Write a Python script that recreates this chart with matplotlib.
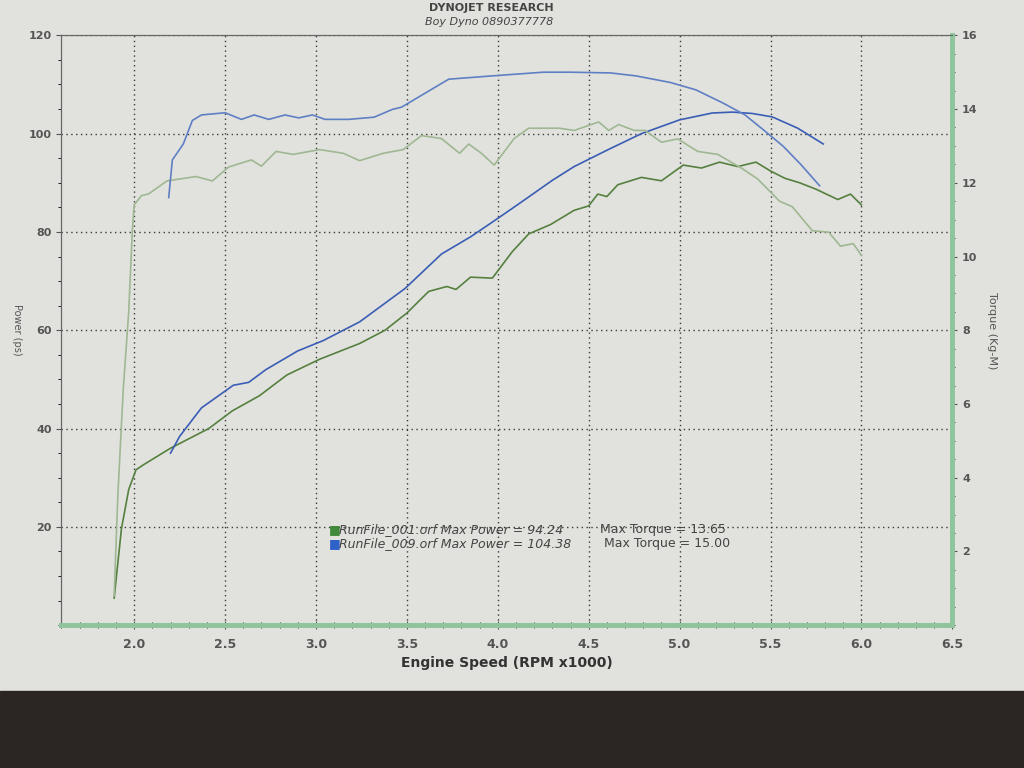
import numpy as np
import matplotlib.pyplot as plt
from matplotlib.ticker import MultipleLocator
from matplotlib.patches import Rectangle

# RunFile_001 (green) power, ps
g_pow_rpm = [1.89, 1.93, 1.97, 2.01, 2.05, 2.20, 2.41, 2.54, 2.69, 2.84, 3.02, 3.24, 3.38, 3.50,
             3.62, 3.72, 3.77, 3.85, 3.97, 4.08, 4.17, 4.29, 4.42, 4.50, 4.55, 4.60, 4.66, 4.79,
             4.90, 5.02, 5.12, 5.22, 5.32, 5.42, 5.50, 5.58, 5.66, 5.75, 5.87, 5.94, 6.00]
g_pow = [5.5, 19.6, 27.6, 31.6, 32.6, 36.0, 40.0, 43.6, 46.7, 50.9, 54.1, 57.3, 60.0, 63.5,
         67.9, 68.9, 68.3, 70.8, 70.6, 76.0, 79.6, 81.5, 84.4, 85.3, 87.7, 87.2, 89.6, 91.1,
         90.4, 93.6, 93.0, 94.2, 93.3, 94.2, 92.4, 90.9, 90.0, 88.7, 86.6, 87.7, 85.5]

# RunFile_001 (green) torque, Kg-M
g_tq_rpm = [1.89, 1.91, 1.94, 1.97, 1.99, 2.00, 2.04, 2.08, 2.18, 2.34, 2.43, 2.52, 2.645, 2.70,
            2.78, 2.875, 3.02, 3.15, 3.24, 3.37, 3.48, 3.58, 3.69, 3.79, 3.84, 3.91, 3.98, 4.09,
            4.17, 4.34, 4.42, 4.555, 4.61, 4.665, 4.75, 4.81, 4.90, 4.99, 5.10, 5.21, 5.34, 5.43,
            5.55, 5.62, 5.73, 5.82, 5.885, 5.955, 6.00]
g_tq = [0.8, 3.5, 6.4, 8.5, 10.7, 11.4, 11.65, 11.7, 12.05, 12.17, 12.05, 12.43, 12.62, 12.45,
        12.85, 12.77, 12.9, 12.8, 12.6, 12.8, 12.9, 13.28, 13.2, 12.8, 13.05, 12.8, 12.48, 13.2,
        13.48, 13.48, 13.42, 13.65, 13.42, 13.58, 13.42, 13.42, 13.1, 13.19, 12.85, 12.77, 12.4, 12.1,
        11.5, 11.35, 10.7, 10.66, 10.28, 10.35, 10.03]

# RunFile_009 (blue) power, ps
b_pow_rpm = [2.20, 2.25, 2.37, 2.545, 2.63, 2.725, 2.90, 3.04, 3.24, 3.49, 3.69, 3.85, 3.97,
             4.08, 4.15, 4.30, 4.42, 4.61, 4.79, 5.00, 5.18, 5.29, 5.40, 5.51, 5.65, 5.79]
b_pow = [35.0, 38.4, 44.2, 48.8, 49.4, 52.0, 55.8, 57.9, 61.7, 68.5, 75.5, 79.0, 82.0,
         84.8, 86.6, 90.5, 93.3, 96.8, 100.0, 102.8, 104.2, 104.38, 104.1, 103.4, 101.1, 97.9]

# RunFile_009 (blue) torque, Kg-M
b_tq_rpm = [2.19, 2.21, 2.27, 2.32, 2.37, 2.50, 2.59, 2.66, 2.74, 2.83, 2.905, 2.98, 3.05, 3.18,
            3.32, 3.42, 3.47, 3.60, 3.73, 3.97, 4.25, 4.40, 4.62, 4.76, 4.95, 5.09, 5.24, 5.36,
            5.465, 5.57, 5.67, 5.77]
b_tq = [11.6, 12.62, 13.05, 13.69, 13.84, 13.9, 13.72, 13.84, 13.72, 13.84, 13.76, 13.84, 13.72, 13.72,
        13.78, 13.99, 14.05, 14.43, 14.81, 14.9, 15.0, 15.0, 14.98, 14.9, 14.72, 14.52, 14.16, 13.84,
        13.42, 12.99, 12.48, 11.92]

runs = ["RunFile_001.orf", "RunFile_009.orf"]
max_power = [94.24, 104.38]
max_torque = [13.65, 15.00]

paper = '#e1e2dd'
fig = plt.figure(figsize=(10.24, 7.68), dpi=100, facecolor=paper)
# desk below the printout
fig.patches.append(Rectangle((0, 0), 1, 0.10, transform=fig.transFigure, color='#2b2624', zorder=-1))

ax = fig.add_axes([0.06, 0.186, 0.87, 0.768], facecolor=paper)
ax2 = ax.twinx()

ax.set_xlim(1.6, 6.5)
ax.set_ylim(0, 120)
ax2.set_ylim(0, 16)

ax.plot(g_pow_rpm, g_pow, color='#55803f', lw=1.2)
ax.plot(b_pow_rpm, b_pow, color='#3a5db5', lw=1.2)
ax2.plot(g_tq_rpm, g_tq, color='#9fb792', lw=1.2)
ax2.plot(b_tq_rpm, b_tq, color='#5f7fc4', lw=1.2)

ax.set_xticks(np.arange(2.0, 6.51, 0.5))
ax.set_xticklabels([f"{v:.1f}" for v in np.arange(2.0, 6.51, 0.5)])
ax.xaxis.set_minor_locator(MultipleLocator(0.1))
ax.set_yticks([20, 40, 60, 80, 100, 120])
ax.yaxis.set_minor_locator(MultipleLocator(5))
ax2.set_yticks([2, 4, 6, 8, 10, 12, 14, 16])
ax2.yaxis.set_minor_locator(MultipleLocator(0.5))

ax.grid(True, which='major', linestyle=(0, (1, 2.5)), color='#3a3a3a', linewidth=1.0)

for a in (ax, ax2):
    a.tick_params(labelsize=8, colors='#555555', width=0.8)
    for lab in a.get_xticklabels() + a.get_yticklabels():
        lab.set_fontweight('bold')
ax.tick_params(axis='x', direction='inout', length=6, pad=6, labelsize=9)
ax.tick_params(axis='x', which='minor', direction='inout', length=4)

for a in (ax, ax2):
    a.spines['bottom'].set_color('#8fc49c')
    a.spines['bottom'].set_linewidth(3.5)
    a.spines['right'].set_color('#8fc49c')
    a.spines['right'].set_linewidth(3.5)
    a.spines['left'].set_color('#666666')
    a.spines['top'].set_color('#666666')

ax.set_xlabel("Engine Speed (RPM x1000)", fontsize=10, fontweight='bold', color='#333333')
ax.set_ylabel("Power (ps)", fontsize=7, color='#555555', rotation=270, labelpad=12)
ax2.set_ylabel("Torque (Kg-M)", fontsize=8, color='#555555', rotation=270, labelpad=14)

fig.text(0.48, 0.99, "DYNOJET RESEARCH", ha='center', va='center', fontsize=8,
         fontweight='bold', color='#444444')
fig.text(0.478, 0.972, "Boy Dyno 0890377778", ha='center', va='center', fontsize=8,
         style='italic', color='#444444')

colors = ['#3f8a3a', '#2f62c9']
for i in range(2):
    yy = 0.162 - i * 0.024
    ax.text(0.30, yy, "■", transform=ax.transAxes, color=colors[i], fontsize=9, va='center')
    ax.text(0.312, yy, f"{runs[i]} Max Power = {max_power[i]:.2f}", transform=ax.transAxes,
            color='#444444', fontsize=9, style='italic', va='center')
    ax.text(0.605 + i * 0.004, yy, f"Max Torque = {max_torque[i]:.2f}", transform=ax.transAxes,
            color='#444444', fontsize=9, va='center')

plt.savefig("out.png", dpi=100, facecolor=fig.get_facecolor())
